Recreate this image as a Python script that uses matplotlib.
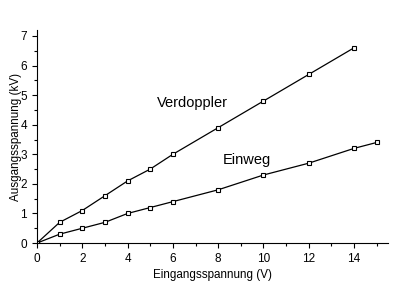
import matplotlib
matplotlib.use("Agg")
import matplotlib.pyplot as plt
from matplotlib.ticker import MultipleLocator

plt.rcParams['font.family'] = ['Liberation Sans', 'DejaVu Sans']

# Messwerte
u_ein = [0, 1, 2, 3, 4, 5, 6, 8, 10, 12, 14]
u_verdoppler = [0, 0.7, 1.1, 1.6, 2.1, 2.5, 3.0, 3.9, 4.8, 5.7, 6.6]

u_ein_einweg = [0, 1, 2, 3, 4, 5, 6, 8, 10, 12, 14, 15]
u_einweg = [0, 0.3, 0.5, 0.7, 1.0, 1.2, 1.4, 1.8, 2.3, 2.7, 3.2, 3.4]

fig = plt.figure(figsize=(4, 2.89), dpi=100)
ax = fig.add_axes([0.0925, 0.159, 0.8775, 0.737])

for x, y in [(u_ein, u_verdoppler), (u_ein_einweg, u_einweg)]:
    ax.plot(x, y, color='black', lw=0.9, marker='s', ms=3.2,
            mfc='white', mec='black', mew=0.8)

ax.text(5.3, 4.75, 'Verdoppler', fontsize=10.5, va='center')
ax.text(8.2, 2.8, 'Einweg', fontsize=10.5, va='center')

ax.set_xlim(0, 15.5)
ax.set_ylim(0, 7.2)
ax.xaxis.set_major_locator(MultipleLocator(2))
ax.xaxis.set_minor_locator(MultipleLocator(1))
ax.yaxis.set_major_locator(MultipleLocator(1))
ax.yaxis.set_minor_locator(MultipleLocator(0.5))
ax.tick_params(which='both', direction='out', labelsize=8.5, width=0.8)
ax.tick_params(which='major', length=3.8)
ax.tick_params(which='minor', length=2)

ax.spines['top'].set_visible(False)
ax.spines['right'].set_visible(False)
ax.spines['left'].set_linewidth(0.8)
ax.spines['bottom'].set_linewidth(0.8)

ax.set_xlabel('Eingangsspannung (V)', fontsize=8.4, labelpad=2.5)
ax.set_ylabel('Ausgangsspannung (kV)', fontsize=8.4, labelpad=-1)

fig.savefig('out.png', dpi=100)
